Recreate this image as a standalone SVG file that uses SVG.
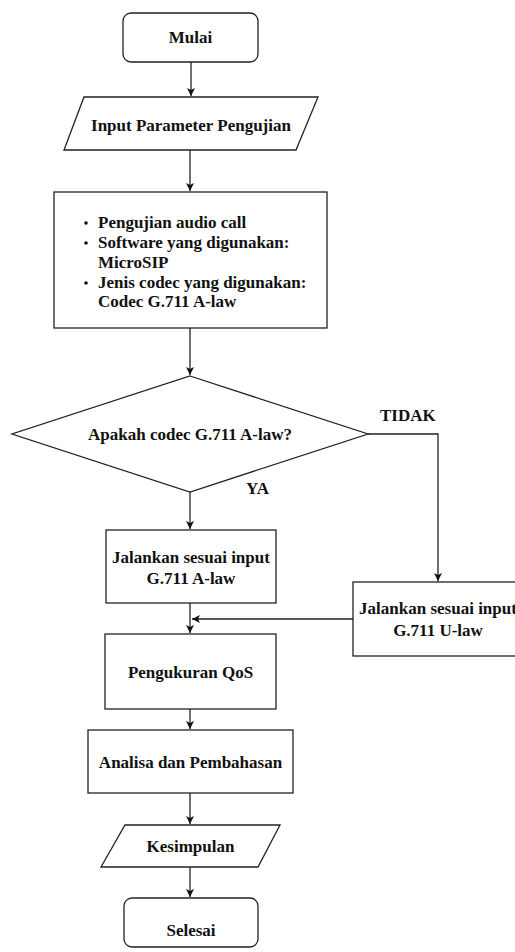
<svg xmlns="http://www.w3.org/2000/svg" width="515" height="952" viewBox="0 0 515 952">
<defs>
<marker id="arr" markerUnits="userSpaceOnUse" markerWidth="10" markerHeight="10" refX="8" refY="4" orient="auto">
<path d="M0,0 L8,4 L0,8 L2,4 z" fill="#111"/>
</marker>
<style>
.s{fill:#fff;stroke:#222;stroke-width:1.3}
.t{font-family:'Liberation Serif','Times New Roman',serif;font-weight:700;font-size:17px;fill:#111}
.m{text-anchor:middle}
.c{fill:none;stroke:#222;stroke-width:1.3}
</style>
</defs>
<rect width="515" height="952" fill="#fff"/>
<g id="connectors">
<path class="c" d="M191,62 V96" marker-end="url(#arr)"/>
<path class="c" d="M190,150 V191" marker-end="url(#arr)"/>
<path class="c" d="M190,328 V375" marker-end="url(#arr)"/>
<path class="c" d="M190,492 V529" marker-end="url(#arr)"/>
<path class="c" d="M368,434 H438 V581" marker-end="url(#arr)"/>
<path class="c" d="M190,603 V633" marker-end="url(#arr)"/>
<path class="c" d="M353,619 H192" marker-end="url(#arr)"/>
<path class="c" d="M190,709 V729" marker-end="url(#arr)"/>
<path class="c" d="M190,793 V824" marker-end="url(#arr)"/>
<path class="c" d="M190,867 V897" marker-end="url(#arr)"/>
<text class="t" x="380" y="421">TIDAK</text>
<text class="t" x="246" y="494">YA</text>
</g>
<g id="mulai">
<rect class="s" x="123" y="13" width="135" height="49" rx="8"/>
<text class="t m" x="190.5" y="43">Mulai</text>
</g>
<g id="input">
<polygon class="s" points="84,97 318,97 296,150 64,150"/>
<text class="t m" x="191" y="131">Input Parameter Pengujian</text>
</g>
<g id="proses">
<rect class="s" x="54" y="192" width="273" height="136"/>
<text class="t" x="98" y="228">Pengujian audio call</text>
<text class="t" x="98" y="248">Software yang digunakan:</text>
<text class="t" x="98" y="268">MicroSIP</text>
<text class="t" x="98" y="288">Jenis codec yang digunakan:</text>
<text class="t" x="98" y="307">Codec G.711 A-law</text>
<circle cx="86" cy="223" r="1.8" fill="#111"/>
<circle cx="86" cy="243" r="1.8" fill="#111"/>
<circle cx="86" cy="283" r="1.8" fill="#111"/>
</g>
<g id="keputusan">
<polygon class="s" points="190,376 368,434 190,492 12,434"/>
<text class="t m" x="190" y="440">Apakah codec G.711 A-law?</text>
</g>
<g id="alaw">
<rect class="s" x="106" y="530" width="170" height="73"/>
<text class="t m" x="191" y="563">Jalankan sesuai input</text>
<text class="t m" x="191" y="584">G.711 A-law</text>
</g>
<g id="ulaw">
<rect class="s" x="353" y="582" width="172" height="74"/>
<text class="t m" x="438" y="614">Jalankan sesuai input</text>
<text class="t m" x="438" y="636">G.711 U-law</text>
</g>
<g id="qos">
<rect class="s" x="105" y="634" width="171" height="75"/>
<text class="t m" x="190.5" y="678">Pengukuran QoS</text>
</g>
<g id="analisa">
<rect class="s" x="88" y="730" width="205" height="63"/>
<text class="t m" x="190.5" y="768">Analisa dan Pembahasan</text>
</g>
<g id="kesimpulan">
<polygon class="s" points="125,825 280,825 258,867 101,867"/>
<text class="t m" x="190.5" y="852">Kesimpulan</text>
</g>
<g id="selesai">
<rect class="s" x="124" y="898" width="134" height="49" rx="8"/>
<text class="t m" x="191" y="936">Selesai</text>
</g>
</svg>
